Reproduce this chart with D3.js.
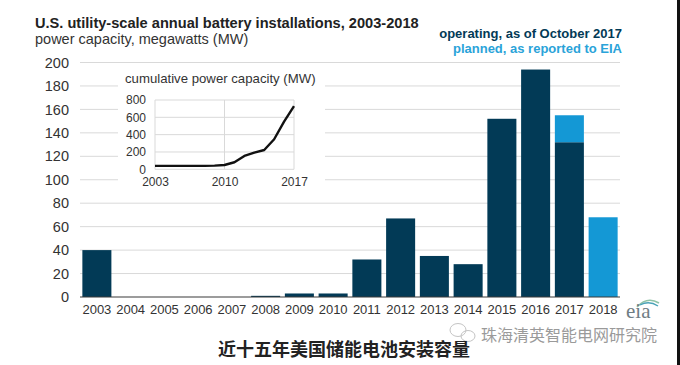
<!DOCTYPE html>
<html>
<head>
<meta charset="utf-8">
<script src="https://cdn.jsdelivr.net/npm/d3@7/dist/d3.min.js"></script>
<style>
  html, body { margin: 0; padding: 0; background: #fff; }
  svg { display: block; font-family: "Liberation Sans", Arial, sans-serif; }
</style>
</head>
<body>
<svg id="chart" width="680" height="365"></svg>
<script>
// ---- data ----
const years = ["2003","2004","2005","2006","2007","2008","2009","2010","2011","2012","2013","2014","2015","2016","2017","2018"];
const operating = [40, 0, 0, 0, 0, 1, 3, 3, 32, 67, 35, 28, 152, 194, 132, 0];
const planned   = [0, 0, 0, 0, 0, 0, 0, 0, 0, 0, 0, 0, 0, 0, 23, 68];
const yTicks = [0, 20, 40, 60, 80, 100, 120, 140, 160, 180, 200];

const cumYears = [2003, 2004, 2005, 2006, 2007, 2008, 2009, 2010, 2011, 2012, 2013, 2014, 2015, 2016, 2017];
const cumulative = [40, 40, 40, 40, 40, 40, 42, 50, 81, 154, 192, 223, 347, 550, 730];
const insetYTicks = [0, 200, 400, 600, 800];
const insetXTicks = [2003, 2010, 2017];

const DARK = "#023a56";
const LIGHT = "#1498d5";
const GRID = "#d9d9d9";
const SANS = "'Liberation Sans', Arial, sans-serif";

const svg = d3.select("#chart");

// ---- scales ----
const x = d3.scaleBand().domain(years).range([80, 620]).paddingInner(0.14).paddingOuter(0.07);
const y = d3.scaleLinear().domain([0, 200]).range([297, 62.5]);

// ---- gridlines ----
svg.append("g").selectAll("line").data(yTicks.filter(d => d > 0)).join("line")
  .attr("x1", 80).attr("x2", 620)
  .attr("y1", d => y(d)).attr("y2", d => y(d))
  .attr("stroke", GRID).attr("stroke-width", 1);

// ---- y axis labels ----
const yAxis = d3.axisLeft(y).tickValues(yTicks).tickSize(0).tickPadding(0);
const gy = svg.append("g").attr("transform", "translate(69,0)").call(yAxis);
gy.select(".domain").remove();
gy.attr("font-family", SANS);
gy.selectAll("text").attr("font-size", 14.5).attr("fill", "#333");

// ---- bars ----
const stack = years.map((yr, i) => ({ yr, op: operating[i], pl: planned[i] }));
svg.append("g").selectAll("rect.op").data(stack).join("rect")
  .attr("x", d => x(d.yr)).attr("width", x.bandwidth())
  .attr("y", d => y(d.op)).attr("height", d => y(0) - y(d.op))
  .attr("fill", DARK);
svg.append("g").selectAll("rect.pl").data(stack).join("rect")
  .attr("x", d => x(d.yr)).attr("width", x.bandwidth())
  .attr("y", d => y(d.op + d.pl)).attr("height", d => y(d.op) - y(d.op + d.pl))
  .attr("fill", LIGHT);

// ---- baseline ----
svg.append("line").attr("x1", 80).attr("x2", 620).attr("y1", y(0)).attr("y2", y(0))
  .attr("stroke", "#3a3a3a").attr("stroke-width", 1.2);

// ---- x axis labels ----
const xAxis = d3.axisBottom(x).tickSize(0).tickPadding(0);
const gx = svg.append("g").attr("transform", "translate(0,305)").call(xAxis);
gx.select(".domain").remove();
gx.attr("font-family", SANS);
gx.selectAll("text").attr("font-size", 13).attr("fill", "#333");

// ---- inset ----
svg.append("rect").attr("x", 118).attr("y", 66).attr("width", 207).attr("height", 130).attr("fill", "#fff");
svg.append("text").attr("x", 125).attr("y", 83).attr("font-size", 13.2).attr("fill", "#333")
  .attr("font-family", SANS).text("cumulative power capacity (MW)");

const ix = d3.scaleLinear().domain([2003, 2017]).range([155, 294]);
const iy = d3.scaleLinear().domain([0, 800]).range([169.3, 100]);

svg.append("g").selectAll("line").data(insetYTicks).join("line")
  .attr("x1", ix(2003)).attr("x2", ix(2017))
  .attr("y1", d => iy(d)).attr("y2", d => iy(d))
  .attr("stroke", GRID).attr("stroke-width", 1);
svg.append("g").selectAll("line").data(insetXTicks).join("line")
  .attr("x1", d => ix(d)).attr("x2", d => ix(d))
  .attr("y1", iy(0)).attr("y2", iy(800))
  .attr("stroke", GRID).attr("stroke-width", 1);

const iyAxis = d3.axisLeft(iy).tickValues(insetYTicks).tickSize(0).tickPadding(0);
const giy = svg.append("g").attr("transform", "translate(146,0)").call(iyAxis);
giy.select(".domain").remove();
giy.attr("font-family", SANS);
giy.selectAll("text").attr("font-size", 12).attr("fill", "#333");

const ixAxis = d3.axisBottom(ix).tickValues(insetXTicks).tickFormat(d3.format("d")).tickSize(0).tickPadding(0);
const gix = svg.append("g").attr("transform", "translate(0,177)").call(ixAxis);
gix.select(".domain").remove();
gix.attr("font-family", SANS);
gix.selectAll("text").attr("font-size", 12).attr("fill", "#333");

const line = d3.line().x((d, i) => ix(cumYears[i])).y(d => iy(d)).curve(d3.curveLinear);
svg.append("path").datum(cumulative).attr("d", line)
  .attr("fill", "none").attr("stroke", "#111").attr("stroke-width", 2.4)
  .attr("stroke-linejoin", "round");

// ---- titles ----
svg.append("text").attr("x", 35).attr("y", 27.5).attr("font-size", 14.6).attr("font-weight", "bold")
  .attr("font-family", SANS).attr("fill", "#222")
  .text("U.S. utility-scale annual battery installations, 2003-2018");
svg.append("text").attr("x", 35).attr("y", 44).attr("font-size", 14.5).attr("fill", "#333")
  .attr("font-family", SANS).text("power capacity, megawatts (MW)");

// ---- legend ----
svg.append("text").attr("x", 622).attr("y", 38).attr("text-anchor", "end")
  .attr("font-size", 13).attr("font-weight", "bold").attr("fill", DARK).attr("font-family", SANS)
  .text("operating, as of October 2017");
svg.append("text").attr("x", 622).attr("y", 52.5).attr("text-anchor", "end")
  .attr("font-size", 13).attr("font-weight", "bold").attr("fill", "#2aa3d9").attr("font-family", SANS)
  .text("planned, as reported to EIA");

// ---- eia logo ----
svg.append("path").attr("d", "M637,307 Q647,296 659,303").attr("fill", "none")
  .attr("stroke", "#8fc3a6").attr("stroke-width", 1.6);
svg.append("path").attr("d", "M640,305 Q649,300 658,306").attr("fill", "none")
  .attr("stroke", "#4aa3b8").attr("stroke-width", 1.4);
svg.append("text").attr("x", 626).attr("y", 318).attr("font-size", 21)
  .attr("font-family", "'Liberation Serif', 'DejaVu Serif', serif").attr("fill", "#6f7d84")
  .text("eia");

// ---- watermark ----
const wm = svg.append("g").attr("fill", "none").attr("stroke", "#c4c4c4").attr("stroke-width", 1);
wm.append("ellipse").attr("cx", 458).attr("cy", 330).attr("rx", 8).attr("ry", 6.5);
wm.append("ellipse").attr("cx", 468).attr("cy", 336).attr("rx", 7).attr("ry", 5.5);
svg.append("text").attr("x", 481).attr("y", 341).attr("font-size", 16)
  .attr("font-family", "'Noto Sans CJK SC', sans-serif").attr("fill", "#9a9a9a")
  .text("珠海清英智能电网研究院");

// ---- caption ----
svg.append("text").attr("x", 218).attr("y", 356).attr("font-size", 18).attr("font-weight", "bold")
  .attr("font-family", "'Noto Sans CJK SC', sans-serif").attr("fill", "#222")
  .text("近十五年美国储能电池安装容量");

// ---- right edge strip ----
svg.append("rect").attr("x", 677).attr("y", 0).attr("width", 3).attr("height", 365).attr("fill", "#111");
</script>
</body>
</html>
